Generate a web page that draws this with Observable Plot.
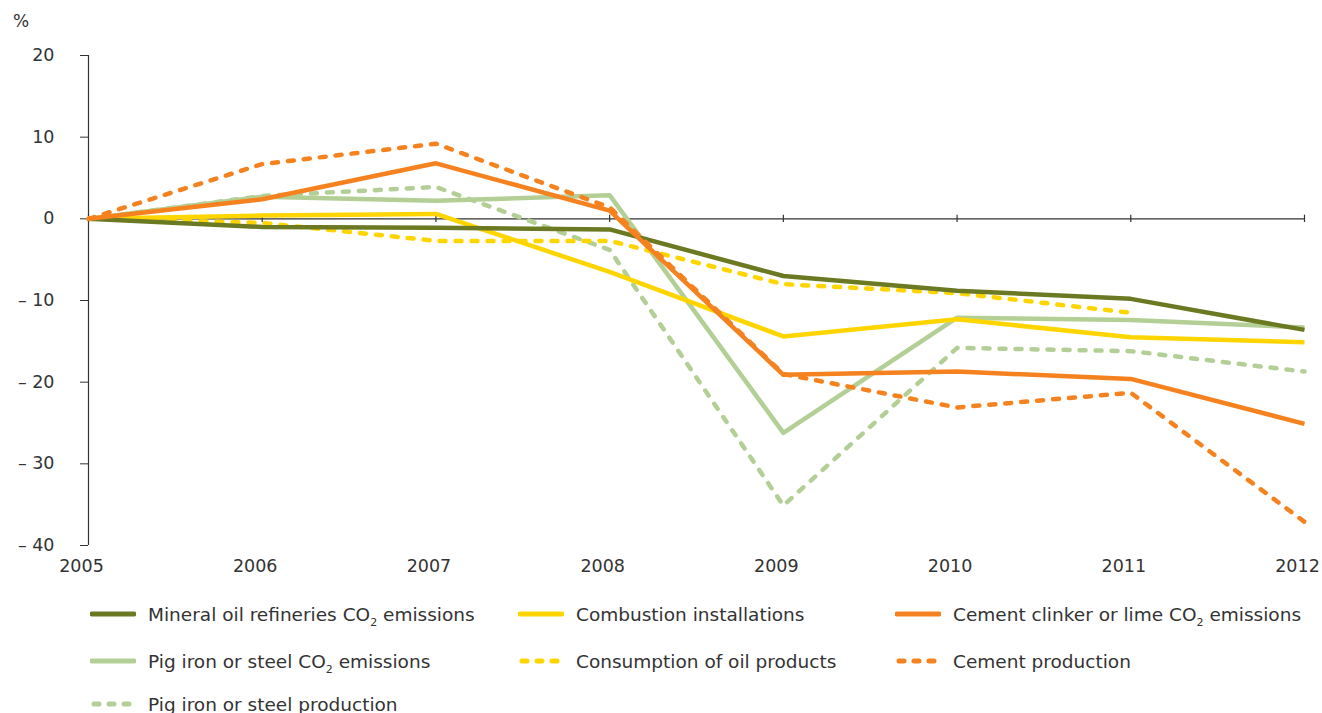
<!DOCTYPE html>
<html>
<head>
<meta charset="utf-8">
<script src="https://cdn.jsdelivr.net/npm/d3@7"></script>
<script src="https://cdn.jsdelivr.net/npm/@observablehq/plot@0.6"></script>
<style>
  html, body { margin: 0; padding: 0; background: #fff; }
  body { width: 1322px; height: 713px; overflow: hidden; font-family: "DejaVu Sans", Verdana, sans-serif; color: #333; }
  #wrap { position: relative; width: 1322px; height: 713px; }
  #chart { position: absolute; left: 0; top: 0; }
  #unit { position: absolute; left: 13px; top: 11px; font-size: 17px; }
  .leg { position: absolute; display: flex; align-items: center; font-size: 18.5px; white-space: nowrap; }
  .leg svg { margin-right: 12px; }
  sub { font-size: 11px; vertical-align: -5px; line-height: 0; }
</style>
</head>
<body>
<div id="wrap">
  <div id="chart"></div>
  <div id="unit">%</div>
  <div id="legend"></div>
</div>
<script>
const years = [2005, 2006, 2007, 2008, 2009, 2010, 2011, 2012];
const seriesNames = [
  "Pig iron or steel production",
  "Pig iron or steel CO2 emissions",
  "Consumption of oil products",
  "Combustion installations",
  "Mineral oil refineries CO2 emissions",
  "Cement clinker or lime CO2 emissions",
  "Cement production"
];
const pigIronProduction   = [0, 2.8, 3.9, -3.8, -35.1, -15.8, -16.2, -18.7];
const pigIronEmissions    = [0, 2.7, 2.2, 2.9, -26.2, -12.1, -12.4, -13.3];
const oilConsumption      = [0, -0.5, -2.7, -2.7, -8.0, -9.1, -11.5, null];
const combustion          = [0, 0.4, 0.6, -6.5, -14.4, -12.3, -14.5, -15.1];
const refineries          = [0, -1.0, -1.1, -1.3, -7.0, -8.8, -9.8, -13.6];
const cementClinker       = [0, 2.4, 6.8, 1.0, -19.1, -18.7, -19.6, -25.1];
const cementProduction    = [0, 6.7, 9.2, 1.4, -19.0, -23.1, -21.3, -37.1];
const seriesValues = [pigIronProduction, pigIronEmissions, oilConsumption, combustion, refineries, cementClinker, cementProduction];
const seriesColors = ["#b3cf96", "#b3cf96", "#ffd500", "#ffd500", "#6b7a22", "#f5821f", "#f5821f"];
const seriesDashed = [true, false, true, false, false, false, true];
const yTicks = [-40, -30, -20, -10, 0, 10, 20];

const data = [];
seriesNames.forEach((name, i) => {
  years.forEach((yr, j) => {
    data.push({series: name, year: yr, value: seriesValues[i][j]});
  });
});

const fmtY = d => d < 0 ? "\u2013 " + (-d) : String(d);

const lineMarks = seriesNames.map((name, i) => Plot.line(
  data.filter(d => d.series === name && d.value != null),
  {
    x: "year", y: "value",
    stroke: seriesColors[i],
    strokeWidth: 4.5,
    strokeDasharray: seriesDashed[i] ? "6,10" : null,
    strokeLinecap: seriesDashed[i] ? "round" : "butt",
    strokeLinejoin: "round"
  }
));

const chart = Plot.plot({
  width: 1322,
  height: 590,
  marginLeft: 88,
  marginRight: 18,
  marginTop: 55,
  marginBottom: 45,
  style: { fontFamily: "'DejaVu Sans', Verdana, sans-serif", fontSize: "17.5px", color: "#333", background: "#fff" },
  x: { type: "linear", domain: [2005, 2012] },
  y: { domain: [-40, 20] },
  marks: [
    Plot.axisY({ ticks: yTicks, tickFormat: fmtY, tickSize: 8, tickPadding: 26, stroke: "#333", fill: "#333", fontSize: 17.5, label: null }),
    Plot.ruleX([2005], { y1: -40, y2: 20, stroke: "#333", strokeWidth: 1.2 }),
    Plot.axisX({ ticks: years, tickFormat: d => String(d), tickSize: 0, tickPadding: 14, dx: -7, fill: "#333", fontSize: 17.5, label: null }),
    Plot.ruleY([0], { x1: 2005, x2: 2012, stroke: "#333", strokeWidth: 1.2 }),
    Plot.ruleX(years, { x: d => d, y1: -0.45, y2: 0.45, stroke: "#333", strokeWidth: 1.2 }),
    ...lineMarks
  ]
});
document.getElementById("chart").appendChild(chart);

// Legend
const legendOrder = [
  [4, 0, 0], [3, 1, 0], [5, 2, 0],
  [1, 0, 1], [2, 1, 1], [6, 2, 1],
  [0, 0, 2]
];
const colX = [90, 518, 895];
const rowY = [614, 661, 704];
const legendLabels = {
  "Mineral oil refineries CO2 emissions": "Mineral oil refineries CO<sub>2</sub> emissions",
  "Pig iron or steel CO2 emissions": "Pig iron or steel CO<sub>2</sub> emissions",
  "Cement clinker or lime CO2 emissions": "Cement clinker or lime CO<sub>2</sub> emissions"
};
const legend = document.getElementById("legend");
legendOrder.forEach(([i, c, r]) => {
  const div = document.createElement("div");
  div.className = "leg";
  div.style.left = colX[c] + "px";
  div.style.top = (rowY[r] - 12) + "px";
  div.style.height = "24px";
  const dash = seriesDashed[i];
  const sw = `<svg width="46" height="10"><line x1="${dash ? 4 : 2}" y1="5" x2="${dash ? 42 : 44}" y2="5" stroke="${seriesColors[i]}" stroke-width="5" stroke-linecap="round" ${dash ? 'stroke-dasharray="5,10"' : ''}/></svg>`;
  const name = seriesNames[i];
  div.innerHTML = sw + "<span>" + (legendLabels[name] || name) + "</span>";
  legend.appendChild(div);
});
</script>
</body>
</html>
